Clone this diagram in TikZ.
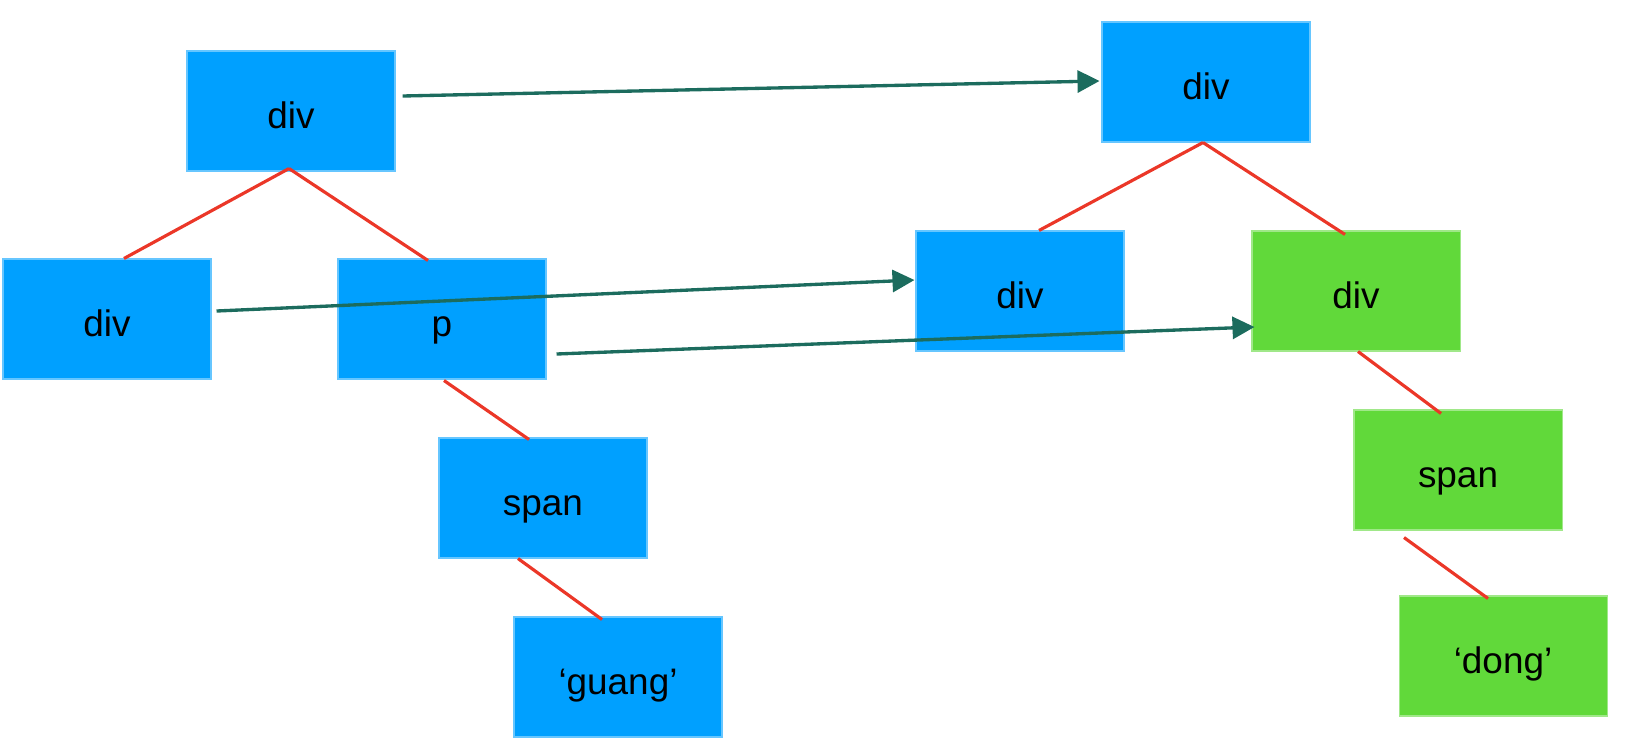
\documentclass[tikz,border=0pt]{standalone}
\usepackage{fontspec}
\setmainfont{Liberation Sans}
\usepackage{tikz}
\usetikzlibrary{arrows.meta, positioning, calc}
\definecolor{nodeblue}{RGB}{0, 160, 255}
\definecolor{nodegreen}{RGB}{97, 217, 58}
\definecolor{linkred}{RGB}{235, 55, 40}
\definecolor{moveteal}{RGB}{28, 108, 94}
\tikzset{
  blubox/.style={fill=nodeblue, draw=nodeblue!60, line width=0.3pt, minimum width=2.08cm, minimum height=1.2cm, inner sep=0pt, text height=1.15em, text depth=0.15em, font=\fontsize{10.5}{12}\selectfont},
  grnbox/.style={blubox, fill=nodegreen, draw=nodegreen!60},
  tree/.style={linkred, line width=0.9pt},
  move/.style={moveteal, line width=0.95pt, -{Triangle[length=2.2mm, width=2.2mm]}}
}
\begin{document}
\begin{tikzpicture}
  \useasboundingbox (0,0) rectangle (16.26,-7.44);

  % old tree
  \node[blubox] (a) at (2.91, -1.11) {div};
  \node[blubox] (b) at (1.07, -3.19) {div};
  \node[blubox] (c) at (4.42, -3.19) {p};
  \node[blubox] (d) at (5.43, -4.98) {span};
  \node[blubox] (e) at (6.18, -6.77) {‘guang’};

  % new tree
  \node[blubox] (f) at (12.06, -0.82) {div};
  \node[blubox] (g) at (10.20, -2.91) {div};
  \node[grnbox] (h) at (13.56, -2.91) {div};
  \node[grnbox] (i) at (14.58, -4.70) {span};
  \node[grnbox] (j) at (15.03, -6.56) {‘dong’};

  % parent/child links
  \draw[tree] ($(a.south)+(-0.02,0.03)$) -- ($(b.north)+(0.17,0)$);
  \draw[tree] ($(a.south)+(-0.02,0.03)$) -- ($(c.north)+(-0.14,-0.02)$);
  \draw[tree] ($(c.south)+(0.02,-0.01)$) -- ($(d.north)+(-0.14,-0.02)$);
  \draw[tree] ($(d.south)+(-0.25,0)$) -- ($(e.north)+(-0.16,-0.03)$);
  \draw[tree] ($(f.south)+(-0.03,0)$) -- ($(g.north)+(0.19,0)$);
  \draw[tree] ($(f.south)+(-0.03,0)$) -- ($(h.north)+(-0.11,-0.04)$);
  \draw[tree] ($(h.south)+(0.02,0)$) -- ($(i.north)+(-0.17,-0.04)$);
  \draw[tree] ($(i.south)+(-0.54,-0.07)$) -- ($(j.north)+(-0.15,-0.03)$);

  % moves
  \draw[move] ($(a.east)+(0.07,0.15)$) -- ($(f.west)+(-0.02,0.01)$);
  \draw[move] ($(b.east)+(0.05,0.08)$) -- ($(g.west)+(-0.01,0.11)$);
  \draw[move] ($(c.east)+(0.10,-0.35)$) -- ($(h.west)+(0.03,-0.36)$);
\end{tikzpicture}
\end{document}
